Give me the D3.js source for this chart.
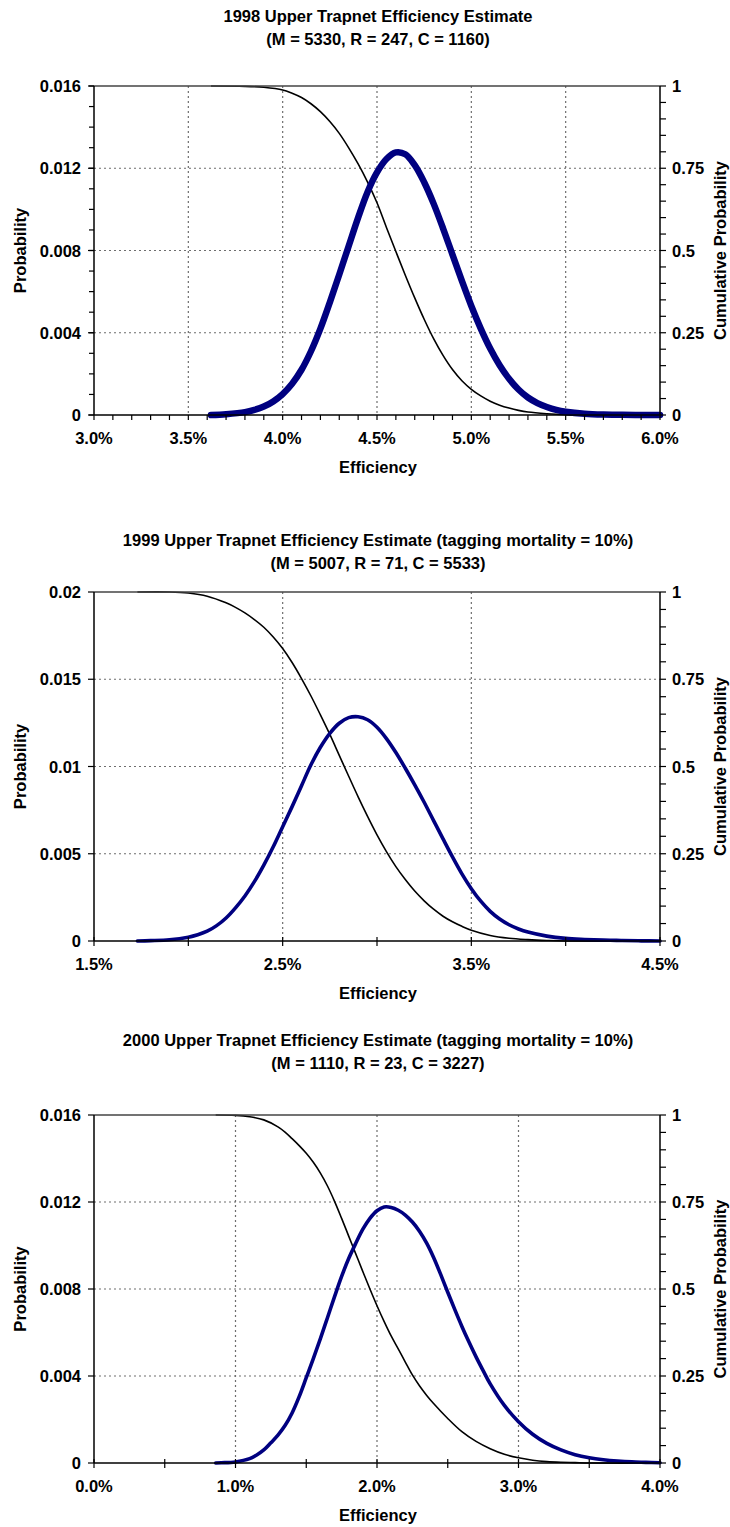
<!DOCTYPE html>
<html>
<head>
<meta charset="utf-8">
<script src="https://cdn.jsdelivr.net/npm/d3@7"></script>
<style>
  html, body { margin: 0; padding: 0; background: #fff; }
  svg { display: block; }
  text { font-family: "Liberation Sans", Arial, sans-serif; font-weight: bold; fill: #000; }
</style>
</head>
<body>
<svg id="chart" width="730" height="1527"></svg>
<script>
// ---- 1998 ----
const title1998 = ["1998 Upper Trapnet Efficiency Estimate", "(M = 5330, R = 247, C = 1160)"];
const xTicks1998 = [3.0, 3.5, 4.0, 4.5, 5.0, 5.5, 6.0];
const yTicks1998 = [0, 0.004, 0.008, 0.012, 0.016];
const effProb1998 = [3.62, 3.70, 3.80, 3.85, 3.90, 3.95, 4.00, 4.05, 4.10, 4.15, 4.20, 4.25, 4.30, 4.35, 4.40, 4.45, 4.50, 4.55, 4.60, 4.65, 4.70, 4.75, 4.80, 4.85, 4.90, 4.95, 5.00, 5.05, 5.10, 5.15, 5.20, 5.25, 5.30, 5.35, 5.40, 5.45, 5.50, 5.60, 5.70, 5.80, 5.90, 6.00];
const prob1998 = [0, 0.00004, 0.00014, 0.00025, 0.00041, 0.00066, 0.00102, 0.00152, 0.00220, 0.00310, 0.00420, 0.00548, 0.00683, 0.00822, 0.00960, 0.01085, 0.01180, 0.01245, 0.01277, 0.01268, 0.01215, 0.01132, 0.01028, 0.00908, 0.00780, 0.00652, 0.00530, 0.00420, 0.00323, 0.00242, 0.00176, 0.00124, 0.00085, 0.00058, 0.00039, 0.00025, 0.00016, 0.00006, 0.00002, 0.00001, 0, 0];
const effCum1998 = [3.62, 3.80, 3.90, 4.00, 4.05, 4.10, 4.15, 4.20, 4.25, 4.30, 4.35, 4.40, 4.45, 4.50, 4.55, 4.60, 4.65, 4.70, 4.75, 4.80, 4.85, 4.90, 4.95, 5.00, 5.05, 5.10, 5.15, 5.20, 5.25, 5.30, 5.40, 5.50, 5.60, 6.00];
const cum1998 = [1.000, 0.999, 0.996, 0.988, 0.978, 0.965, 0.946, 0.922, 0.892, 0.856, 0.812, 0.763, 0.708, 0.645, 0.570, 0.497, 0.425, 0.356, 0.291, 0.232, 0.181, 0.138, 0.104, 0.078, 0.058, 0.042, 0.030, 0.021, 0.014, 0.009, 0.004, 0.001, 0, 0];

// ---- 1999 ----
const title1999 = ["1999 Upper Trapnet Efficiency Estimate (tagging mortality = 10%)", "(M = 5007, R = 71, C = 5533)"];
const xTicks1999 = [1.5, 2.5, 3.5, 4.5];
const yTicks1999 = [0, 0.005, 0.01, 0.015, 0.02];
const effProb1999 = [1.73, 1.80, 1.90, 2.00, 2.05, 2.10, 2.15, 2.20, 2.25, 2.30, 2.35, 2.40, 2.45, 2.50, 2.55, 2.60, 2.65, 2.70, 2.75, 2.80, 2.85, 2.90, 2.95, 3.00, 3.05, 3.10, 3.15, 3.20, 3.25, 3.30, 3.35, 3.40, 3.45, 3.50, 3.55, 3.60, 3.65, 3.70, 3.75, 3.80, 3.90, 4.00, 4.10, 4.20, 4.30, 4.40, 4.50];
const prob1999 = [0, 0.00002, 0.00007, 0.00022, 0.00036, 0.00056, 0.00088, 0.00132, 0.00190, 0.00258, 0.00340, 0.00435, 0.00540, 0.00655, 0.00770, 0.00890, 0.01010, 0.01110, 0.01190, 0.01248, 0.01280, 0.01285, 0.01268, 0.01225, 0.01160, 0.01080, 0.00990, 0.00895, 0.00795, 0.00690, 0.00585, 0.00482, 0.00385, 0.00300, 0.00228, 0.00170, 0.00126, 0.00093, 0.00069, 0.00051, 0.00028, 0.00015, 0.00009, 0.00005, 0.00003, 0.00001, 0];
const effCum1999 = [1.73, 1.90, 2.00, 2.10, 2.20, 2.25, 2.30, 2.35, 2.40, 2.45, 2.50, 2.55, 2.60, 2.65, 2.70, 2.75, 2.80, 2.85, 2.90, 2.95, 3.00, 3.05, 3.10, 3.15, 3.20, 3.25, 3.30, 3.35, 3.40, 3.45, 3.50, 3.60, 3.70, 3.80, 3.90, 4.00, 4.50];
const cum1999 = [1.000, 1.000, 0.997, 0.988, 0.969, 0.956, 0.940, 0.921, 0.899, 0.871, 0.838, 0.798, 0.752, 0.702, 0.648, 0.592, 0.532, 0.472, 0.413, 0.357, 0.304, 0.256, 0.213, 0.176, 0.143, 0.115, 0.091, 0.071, 0.055, 0.042, 0.031, 0.016, 0.008, 0.004, 0.0015, 0, 0];

// ---- 2000 ----
const title2000 = ["2000 Upper Trapnet Efficiency Estimate (tagging mortality = 10%)", "(M = 1110, R = 23, C = 3227)"];
const xTicks2000 = [0.0, 1.0, 2.0, 3.0, 4.0];
const yTicks2000 = [0, 0.004, 0.008, 0.012, 0.016];
const effProb2000 = [0.86, 0.90, 1.00, 1.10, 1.15, 1.20, 1.25, 1.30, 1.35, 1.40, 1.45, 1.50, 1.55, 1.60, 1.65, 1.70, 1.75, 1.80, 1.85, 1.90, 1.95, 2.00, 2.05, 2.10, 2.15, 2.20, 2.25, 2.30, 2.35, 2.40, 2.45, 2.50, 2.55, 2.60, 2.65, 2.70, 2.75, 2.80, 2.90, 3.00, 3.10, 3.20, 3.30, 3.40, 3.50, 3.60, 3.70, 3.80, 3.90, 4.00];
const prob2000 = [0, 0.00001, 0.00005, 0.00020, 0.00037, 0.00060, 0.00093, 0.00128, 0.00172, 0.00230, 0.00305, 0.00392, 0.00480, 0.00572, 0.00668, 0.00765, 0.00858, 0.00940, 0.01010, 0.01075, 0.01125, 0.01160, 0.01177, 0.01175, 0.01162, 0.01140, 0.01108, 0.01066, 0.01012, 0.00945, 0.00867, 0.00785, 0.00705, 0.00628, 0.00556, 0.00488, 0.00425, 0.00364, 0.00265, 0.00190, 0.00132, 0.00090, 0.00060, 0.00038, 0.00024, 0.00015, 0.00009, 0.00005, 0.00003, 0.00001];
const effCum2000 = [0.86, 1.00, 1.10, 1.20, 1.30, 1.35, 1.40, 1.45, 1.50, 1.55, 1.60, 1.65, 1.70, 1.75, 1.80, 1.85, 1.90, 1.95, 2.00, 2.05, 2.10, 2.15, 2.20, 2.25, 2.30, 2.35, 2.40, 2.50, 2.60, 2.70, 2.80, 2.90, 3.00, 3.10, 3.20, 3.30, 3.40, 3.50, 4.00];
const cum2000 = [1.000, 0.999, 0.995, 0.986, 0.966, 0.951, 0.932, 0.912, 0.890, 0.864, 0.833, 0.796, 0.752, 0.703, 0.652, 0.601, 0.550, 0.500, 0.452, 0.407, 0.365, 0.328, 0.290, 0.253, 0.222, 0.195, 0.171, 0.128, 0.090, 0.062, 0.041, 0.025, 0.015, 0.008, 0.004, 0.002, 0.001, 0, 0];

const cumTicks = [0, 0.25, 0.5, 0.75, 1];
const cumTickLabels = ["0", "0.25", "0.5", "0.75", "1"];

const panels = [
  { title: title1998, xTicks: xTicks1998, xTickStep: 0.1, xFmt: d => d.toFixed(1) + "%",
    yTicks: yTicks1998, yMinorStep: 0.001, yFmt: d => d === 0 ? "0" : d.toFixed(3),
    effProb: effProb1998, prob: prob1998, effCum: effCum1998, cum: cum1998,
    top: 86, bottom: 415, titleY: 22, probWidth: 6.5, tickDown: true },
  { title: title1999, xTicks: xTicks1999, xTickStep: 0.5, xFmt: d => d.toFixed(1) + "%",
    yTicks: yTicks1999, yMinorStep: null, yFmt: d => d === 0 ? "0" : String(+d.toFixed(3)),
    effProb: effProb1999, prob: prob1999, effCum: effCum1999, cum: cum1999,
    top: 592, bottom: 941, titleY: 546, probWidth: 3.6, tickDown: false },
  { title: title2000, xTicks: xTicks2000, xTickStep: 0.5, xFmt: d => d.toFixed(1) + "%",
    yTicks: yTicks2000, yMinorStep: null, yFmt: d => d === 0 ? "0" : d.toFixed(3),
    effProb: effProb2000, prob: prob2000, effCum: effCum2000, cum: cum2000,
    top: 1115, bottom: 1463, titleY: 1046, probWidth: 3.6, tickDown: false }
];

const svg = d3.select("#chart");
const left = 94, right = 660;
const FS = 16.5;
const navy = "#000080";

panels.forEach(p => {
  const g = svg.append("g");
  const x0 = p.xTicks[0], x1 = p.xTicks[p.xTicks.length - 1];
  const x = d3.scaleLinear().domain([x0, x1]).range([left, right]);
  const yMax = p.yTicks[p.yTicks.length - 1];
  const y = d3.scaleLinear().domain([0, yMax]).range([p.bottom, p.top]);
  const yc = d3.scaleLinear().domain([0, 1]).range([p.bottom, p.top]);
  const midX = (left + right) / 2 + 1;
  const midY = (p.top + p.bottom) / 2;

  // titles
  p.title.forEach((t, i) => {
    g.append("text").attr("x", midX).attr("y", p.titleY + i * 23)
      .attr("text-anchor", "middle").style("font-size", FS + "px").text(t);
  });

  // gridlines (dotted)
  const grid = g.append("g").attr("stroke", "#6e6e6e").attr("stroke-width", 1.2)
    .attr("stroke-dasharray", "2,3");
  p.xTicks.slice(1, -1).forEach(v => {
    grid.append("line").attr("x1", x(v)).attr("x2", x(v)).attr("y1", p.top).attr("y2", p.bottom);
  });
  p.yTicks.slice(1, -1).forEach(v => {
    grid.append("line").attr("x1", left).attr("x2", right).attr("y1", y(v)).attr("y2", y(v));
  });

  // curves
  const curve = d3.curveCatmullRom.alpha(0.5);
  const cumLine = d3.line().x(d => x(d[0])).y(d => yc(Math.max(0, d[1]))).curve(curve);
  g.append("path").datum(d3.zip(p.effCum, p.cum)).attr("d", cumLine)
    .attr("fill", "none").attr("stroke", "#000").attr("stroke-width", 1.6);

  const probLine = d3.line().x(d => x(d[0])).y(d => y(d[1])).curve(curve);
  g.append("path").datum(d3.zip(p.effProb, p.prob)).attr("d", probLine)
    .attr("fill", "none").attr("stroke", navy).attr("stroke-width", p.probWidth)
    .attr("stroke-linejoin", "round").attr("stroke-linecap", "round");

  // frame: top border and axes
  const ax = g.append("g").attr("stroke", "#000").attr("stroke-width", 1.5);
  ax.append("line").attr("x1", left).attr("x2", right).attr("y1", p.top).attr("y2", p.top).attr("stroke", "#444");
  ax.append("line").attr("x1", left).attr("x2", left).attr("y1", p.top).attr("y2", p.bottom);
  ax.append("line").attr("x1", right).attr("x2", right).attr("y1", p.top).attr("y2", p.bottom);
  ax.append("line").attr("x1", left).attr("x2", right).attr("y1", p.bottom).attr("y2", p.bottom);

  // x ticks
  const nx = Math.round((x1 - x0) / p.xTickStep);
  d3.range(nx + 1).map(i => x0 + i * p.xTickStep).forEach(v => {
    ax.append("line").attr("x1", x(v)).attr("x2", x(v))
      .attr("y1", p.tickDown ? p.bottom : p.bottom - 4).attr("y2", p.bottom + 5)
      .attr("stroke-width", 1.2);
  });
  // left ticks
  p.yTicks.forEach(v => {
    ax.append("line").attr("x1", left - 6).attr("x2", left).attr("y1", y(v)).attr("y2", y(v)).attr("stroke-width", 1.2);
  });
  if (p.yMinorStep) {
    d3.range(Math.round(yMax / p.yMinorStep) + 1).map(i => i * p.yMinorStep).forEach(v => {
      ax.append("line").attr("x1", left - 5).attr("x2", left).attr("y1", y(v)).attr("y2", y(v)).attr("stroke-width", 1.2);
    });
  }
  // right ticks (every 0.05)
  d3.range(21).map(i => i * 0.05).forEach(v => {
    ax.append("line").attr("x1", right).attr("x2", right + 6).attr("y1", yc(v)).attr("y2", yc(v)).attr("stroke-width", 1.2);
  });

  // tick labels
  p.xTicks.forEach(v => {
    g.append("text").attr("x", x(v)).attr("y", p.bottom + 29).attr("text-anchor", "middle")
      .style("font-size", FS + "px").text(p.xFmt(v));
  });
  p.yTicks.forEach(v => {
    g.append("text").attr("x", 81).attr("y", y(v) + 6).attr("text-anchor", "end")
      .style("font-size", FS + "px").text(p.yFmt(v));
  });
  cumTicks.forEach((v, i) => {
    g.append("text").attr("x", 672).attr("y", yc(v) + 6).attr("text-anchor", "start")
      .style("font-size", FS + "px").text(cumTickLabels[i]);
  });

  // axis titles
  g.append("text").attr("x", midX).attr("y", p.bottom + 58).attr("text-anchor", "middle")
    .style("font-size", FS + "px").text("Efficiency");
  g.append("text").attr("transform", `translate(26,${midY}) rotate(-90)`).attr("text-anchor", "middle")
    .style("font-size", FS + "px").text("Probability");
  g.append("text").attr("transform", `translate(726,${midY}) rotate(-90)`).attr("text-anchor", "middle")
    .style("font-size", FS + "px").text("Cumulative Probability");
});
</script>
</body>
</html>
